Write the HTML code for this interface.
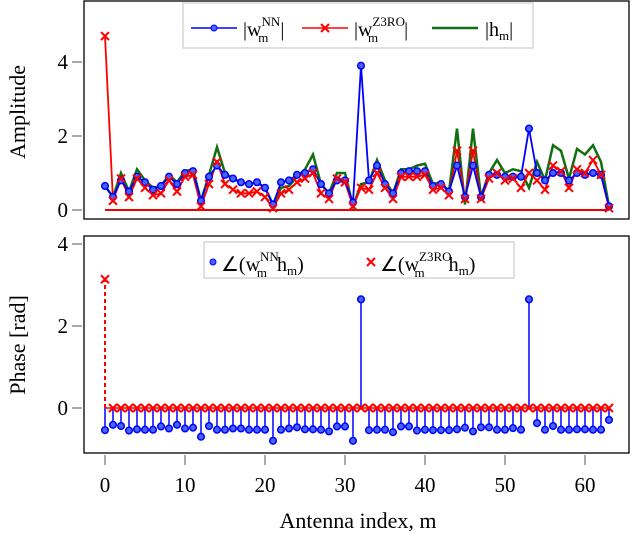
<!DOCTYPE html>
<html><head><meta charset="utf-8"><style>
body{margin:0;background:#fff}
svg text{font-family:"Liberation Serif",serif;fill:#000}
</style></head><body>
<svg id="c" width="640" height="533" xmlns="http://www.w3.org/2000/svg"></svg>
<script>
const nnAmp=[0.65,0.35,0.8,0.5,0.9,0.75,0.55,0.65,0.9,0.7,1.0,1.05,0.25,0.9,1.2,0.95,0.85,0.75,0.7,0.75,0.6,0.15,0.75,0.8,0.95,1.0,1.1,0.7,0.45,0.8,0.8,0.2,3.9,0.8,1.2,0.7,0.45,1.0,1.05,1.05,1.05,0.65,0.7,0.5,1.2,0.35,1.2,0.35,0.95,0.95,0.9,0.9,0.9,2.2,1.0,0.8,1.0,1.0,0.8,1.0,0.95,1.0,0.95,0.1];
const z3Amp=[4.7,0.25,0.85,0.35,0.85,0.6,0.4,0.45,0.8,0.5,0.9,0.95,0.1,0.7,1.3,0.7,0.55,0.45,0.45,0.5,0.35,0.05,0.45,0.55,0.75,0.85,1.0,0.45,0.3,0.85,0.75,0.1,0.6,0.55,1.0,0.6,0.3,0.9,0.9,0.9,0.95,0.55,0.6,0.4,1.6,0.3,1.6,0.3,0.85,1.0,0.8,0.85,0.6,1.0,0.8,0.55,1.2,1.05,0.6,1.1,1.0,1.35,0.95,0.05];
const hAmp=[0.65,0.35,1.0,0.5,1.1,0.8,0.6,0.65,0.95,0.75,1.05,1.1,0.25,0.95,1.7,1.0,0.85,0.75,0.7,0.75,0.6,0.15,0.6,0.65,0.9,1.1,1.5,0.7,0.45,1.0,1.0,0.1,0.7,0.75,1.35,0.8,0.45,1.1,1.1,1.2,1.25,0.7,0.75,0.5,2.2,0.15,2.2,0.35,1.0,1.35,1.0,1.1,1.05,0.6,1.3,0.8,1.75,1.6,0.85,1.65,1.5,1.75,1.3,0.1];
const nnPhase=[-0.54,-0.41,-0.44,-0.55,-0.52,-0.53,-0.53,-0.45,-0.5,-0.41,-0.5,-0.48,-0.7,-0.44,-0.53,-0.53,-0.5,-0.5,-0.53,-0.53,-0.53,-0.8,-0.53,-0.5,-0.47,-0.52,-0.52,-0.53,-0.57,-0.45,-0.45,-0.8,2.65,-0.54,-0.53,-0.53,-0.59,-0.45,-0.45,-0.55,-0.53,-0.54,-0.54,-0.54,-0.52,-0.48,-0.57,-0.47,-0.47,-0.53,-0.53,-0.49,-0.53,2.65,-0.37,-0.53,-0.44,-0.53,-0.53,-0.52,-0.52,-0.53,-0.53,-0.29];
const z3Phase=[3.14].concat(new Array(63).fill(0));
const xTicks=[0,10,20,30,40,50,60];
const ampTicks=[0,2,4];
const phTicks=[0,2,4];
const NS="http://www.w3.org/2000/svg";
const svg=document.getElementById('c');
function el(t,a,p){const e=document.createElementNS(NS,t);for(const k in a)e.setAttribute(k,a[k]);(p||svg).appendChild(e);return e;}
const X=m=>105+8*m;
const YA=v=>210-37*v;
const YP=v=>408-41*v;
// top axes
const g1=el('g',{});
const g2=el('g',{});
function pts(arr,Y){return arr.map((v,i)=>X(i)+','+Y(v)).join(' ');}
let l=el('line',{x1:X(0),x2:X(63),y1:YA(0),y2:YA(0),stroke:'#e00',"stroke-width":2},g1);

let p=el('polyline',{points:pts(hAmp,YA),fill:'none',stroke:'#107010',"stroke-width":2.5},g1);

p=el('polyline',{points:pts(z3Amp,YA),fill:'none',stroke:'#f00',"stroke-width":1.8},g1);

p=el('polyline',{points:pts(nnAmp,YA),fill:'none',stroke:'#00f',"stroke-width":1.8},g1);

function cross(x,y,g,n){const c=el('path',{d:`M${x-4},${y-4}L${x+4},${y+4}M${x-4},${y+4}L${x+4},${y-4}`,stroke:'#f00',"stroke-width":2},g);
}
function dot(x,y,g,n){const c=el('circle',{cx:x,cy:y,r:3.3,fill:'#4466ff',stroke:'#00f',"stroke-width":1.5},g);
}
nnAmp.forEach((v,i)=>dot(X(i),YA(v),g1,'nn-amp-point'));
z3Amp.forEach((v,i)=>cross(X(i),YA(v),g1,'z3ro-amp-point'));
// phase stems
nnPhase.forEach((v,i)=>{const s=el('line',{x1:X(i),x2:X(i),y1:YP(0),y2:YP(v),stroke:'#00f',"stroke-width":1.5},g2);
});
let bl=el('line',{x1:X(0),x2:X(63),y1:YP(0),y2:YP(0),stroke:'#f00',"stroke-width":1.5},g2);

z3Phase.forEach((v,i)=>{if(v!==0){const s=el('line',{x1:X(i),x2:X(i),y1:YP(0),y2:YP(v),stroke:'#f00',"stroke-width":2,"stroke-dasharray":"4,3"},g2);
}});
nnPhase.forEach((v,i)=>dot(X(i),YP(v),g2,'nn-phase-point'));
z3Phase.forEach((v,i)=>cross(X(i),YP(v),g2,'z3ro-phase-point'));
// frames
let f=el('rect',{x:84,y:1,width:545,height:218,fill:'none',stroke:'#000',"stroke-width":1.3});

f=el('rect',{x:84,y:236,width:545,height:217,fill:'none',stroke:'#000',"stroke-width":1.3});

// ticks
xTicks.forEach(t=>{const k=el('line',{x1:X(t),x2:X(t),y1:455,y2:465,stroke:'#555'});

const tx=el('text',{x:X(t),y:492,"font-size":21,"text-anchor":"middle"});tx.textContent=t;
});
ampTicks.forEach(t=>{const k=el('line',{x1:72,x2:82,y1:YA(t),y2:YA(t),stroke:'#555'});

const tx=el('text',{x:68,y:YA(t)+7,"font-size":21,"text-anchor":"end"});tx.textContent=t;
});
phTicks.forEach(t=>{const k=el('line',{x1:72,x2:82,y1:YP(t),y2:YP(t),stroke:'#555'});

const tx=el('text',{x:68,y:YP(t)+7,"font-size":21,"text-anchor":"end"});tx.textContent=t;
});
</script>
<svg width="640" height="533" style="position:absolute;left:0;top:0" xmlns="http://www.w3.org/2000/svg">
<text x="25" y="112" font-size="22" text-anchor="middle" transform="rotate(-90 25 112)">Amplitude</text>
<text x="25" y="345" font-size="22" text-anchor="middle" transform="rotate(-90 25 345)">Phase [rad]</text>
<text x="358" y="528" font-size="22" text-anchor="middle">Antenna index, m</text>
<g>
<rect x="183" y="3" width="350" height="45" fill="#fff" stroke="#ccc" stroke-width="1.2"/>
<line x1="191" y1="28" x2="237" y2="28" stroke="#00f" stroke-width="1.5"/><circle cx="214" cy="28" r="3" fill="#46f" stroke="#00f"/>
<text x="243" y="36" font-size="20">|w<tspan font-size="13" dy="-10">NN</tspan><tspan font-size="13" dx="-22" dy="16">m</tspan><tspan dy="-6" dx="12">|</tspan></text>
<line x1="302" y1="28" x2="348" y2="28" stroke="#f00" stroke-width="1.5"/><path d="M321,24L329,32M321,32L329,24" stroke="#f00" stroke-width="2"/>
<text x="354" y="36" font-size="20">|w<tspan font-size="13" dy="-10">Z3RO</tspan><tspan font-size="13" dx="-37" dy="16">m</tspan><tspan dy="-6" dx="26">|</tspan></text>
<line x1="432" y1="28" x2="478" y2="28" stroke="#107010" stroke-width="2.5"/>
<text x="485" y="36" font-size="20">|h<tspan font-size="13" dy="4">m</tspan><tspan dy="-4">|</tspan></text>
</g>
<g>
<rect x="204" y="242" width="310" height="36" fill="#fff" stroke="#ccc" stroke-width="1.2"/>
<circle cx="213" cy="262" r="3" fill="#46f" stroke="#00f"/>
<text x="221" y="271" font-size="20">∠(w<tspan font-size="13" dy="-10">NN</tspan><tspan font-size="13" dx="-22" dy="16">m</tspan><tspan dy="-6" dx="10">h</tspan><tspan font-size="13" dy="4">m</tspan><tspan dy="-4">)</tspan></text>
<path d="M367,258L375,266M367,266L375,258" stroke="#f00" stroke-width="2"/>
<text x="380" y="271" font-size="20">∠(w<tspan font-size="13" dy="-10">Z3RO</tspan><tspan font-size="13" dx="-37" dy="16">m</tspan><tspan dy="-6" dx="24">h</tspan><tspan font-size="13" dy="4">m</tspan><tspan dy="-4">)</tspan></text>
</g>
</svg>
</body></html>
